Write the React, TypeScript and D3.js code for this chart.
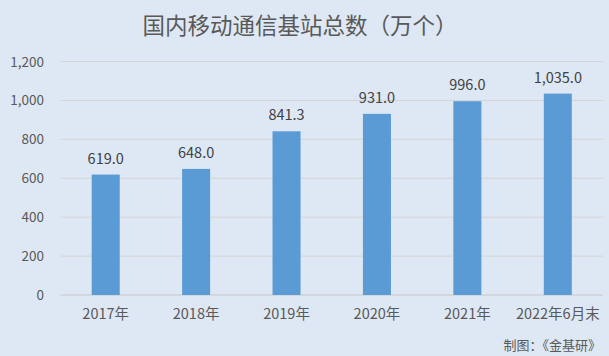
import React from "react";
import * as d3 from "d3";

const categories = ["2017年", "2018年", "2019年", "2020年", "2021年", "2022年6月末"];
const values = [619.0, 648.0, 841.3, 931.0, 996.0, 1035.0];
const yTicks = [0, 200, 400, 600, 800, 1000, 1200];
const title = "国内移动通信基站总数（万个）";
const credit = "制图：《金基研》";

const W = 609, H = 356;
const M = { left: 60.5, right: 603, top: 61.5, bottom: 295 };
const font = "'Microsoft YaHei', 'Noto Sans CJK SC', 'DejaVu Sans', sans-serif";

export default function App() {
  const x = d3.scaleBand<string>().domain(categories).range([M.left, M.right]).paddingInner(0.69).paddingOuter(0.345);
  const y = d3.scaleLinear().domain([0, 1200]).range([M.bottom, M.top]);
  const fmt = d3.format(",.1f");
  const fmtTick = d3.format(",");
  return (
    <svg width={W} height={H} style={{ position: "absolute", left: 0, top: 0, display: "block" }}>
      <rect x={0} y={0} width={W} height={H} fill="#dee8f4" />
      <text x={300} y={34} textAnchor="middle" fontFamily={font} fontSize={22.5} fill="#595959">{title}</text>
      {yTicks.map((t) => (
        <g key={t}>
          <line x1={M.left} x2={M.right} y1={y(t)} y2={y(t)} stroke={t === 0 ? "#c8c8c8" : "#d4d4d4"} strokeWidth={1} />
          <text x={44} y={y(t) + 5} textAnchor="end" fontFamily={font} fontSize={13.5} fill="#595959">{fmtTick(t)}</text>
        </g>
      ))}
      {categories.map((c, i) => (
        <g key={c}>
          <rect x={x(c)!} y={y(values[i])} width={x.bandwidth()} height={M.bottom - y(values[i])} fill="#5b9bd5" />
          <text x={x(c)! + x.bandwidth() / 2} y={y(values[i]) - 11} textAnchor="middle" fontFamily={font} fontSize={14.5} fill="#404040">{fmt(values[i])}</text>
          <text x={x(c)! + x.bandwidth() / 2} y={318.5} textAnchor="middle" fontFamily={font} fontSize={14.5} fill="#595959">{c}</text>
        </g>
      ))}
      <text x={601} y={350} textAnchor="end" fontFamily={font} fontSize={13} fill="#595959">{credit}</text>
    </svg>
  );
}
